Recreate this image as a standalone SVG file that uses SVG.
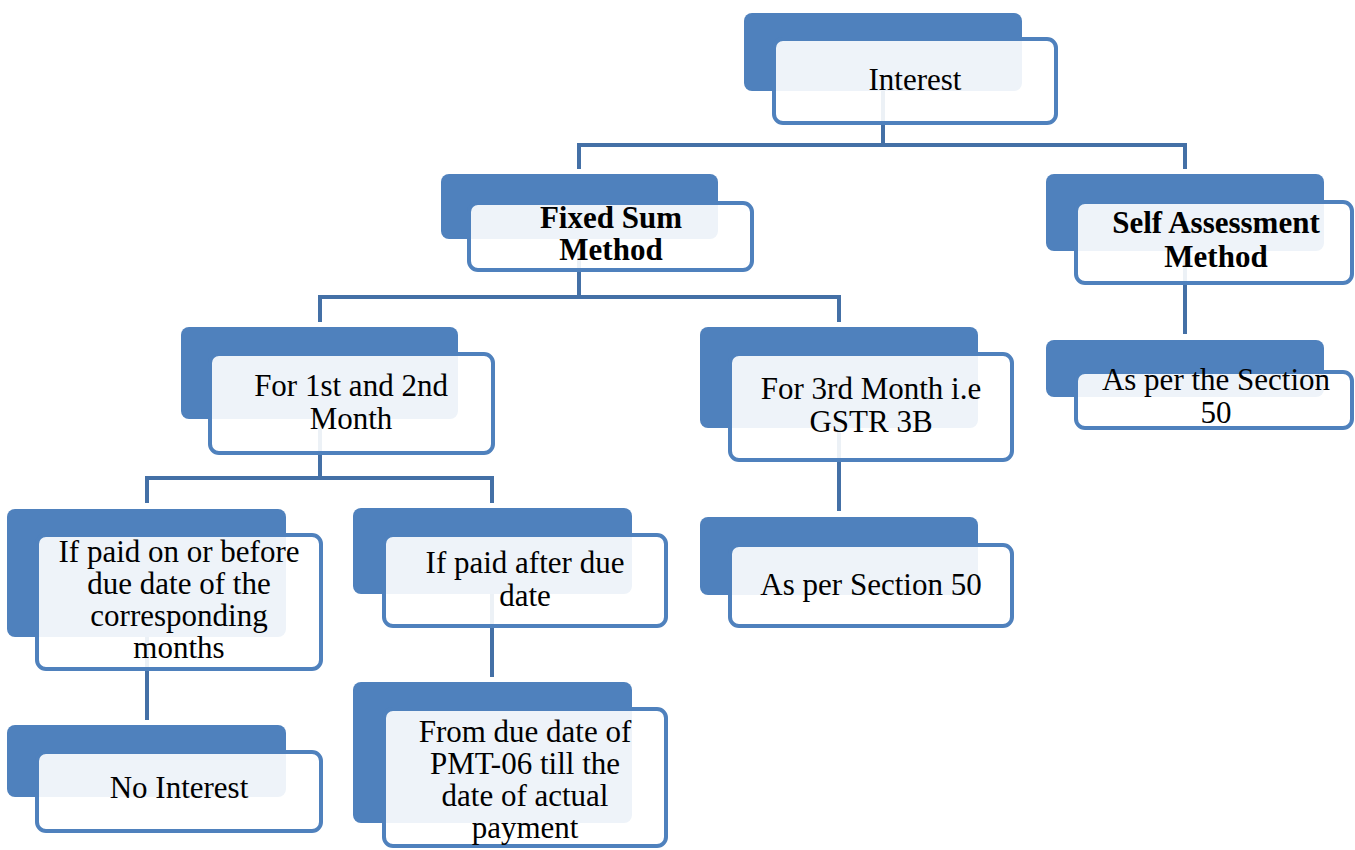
<svg xmlns="http://www.w3.org/2000/svg" width="1355" height="850" viewBox="0 0 1355 850">
<style>
.back{fill:#4F81BD;}
.front{fill:#FFFFFF;fill-opacity:0.9;stroke:#4F81BD;stroke-width:4;}
.conn{fill:none;stroke:#4470A6;stroke-width:4;}
.t{font-family:'Liberation Serif','Times New Roman',serif !important;font-size:31px;fill:#000000;text-anchor:middle;}
.b{font-weight:bold;}
</style>
<rect width="1355" height="850" fill="#FFFFFF"/>
<g id="connectors">
<path class="conn" d="M883,91 V145"/>
<path class="conn" d="M579,169 V145 H1185 V169"/>
<path class="conn" d="M579,239 V297"/>
<path class="conn" d="M320,322 V297 H839 V322"/>
<path class="conn" d="M1185,251 V334"/>
<path class="conn" d="M320,419 V478"/>
<path class="conn" d="M147,503 V478 H492 V503"/>
<path class="conn" d="M839,428 V511"/>
<path class="conn" d="M147,637 V720"/>
<path class="conn" d="M492,594 V677"/>
</g>
<g id="interest">
<rect class="back" x="744" y="13" width="278" height="78" rx="8"/>
<rect class="front" x="774" y="39" width="282" height="84" rx="9"/>
<text class="t" style="font-family:'Liberation Serif',serif" x="915" y="90">Interest</text>
</g>
<g id="fixed-sum">
<rect class="back" x="441" y="174" width="277" height="65" rx="8"/>
<rect class="front" x="469" y="203" width="283" height="67" rx="9"/>
<text class="t b" style="font-family:'Liberation Serif',serif" x="611" y="228">Fixed Sum</text>
<text class="t b" style="font-family:'Liberation Serif',serif" x="611" y="260">Method</text>
</g>
<g id="self-assessment">
<rect class="back" x="1046" y="174" width="278" height="77" rx="8"/>
<rect class="front" x="1076" y="202" width="276" height="81" rx="9"/>
<text class="t b" style="font-family:'Liberation Serif',serif" x="1216" y="233">Self Assessment</text>
<text class="t b" style="font-family:'Liberation Serif',serif" x="1216" y="267">Method</text>
</g>
<g id="self-section50">
<rect class="back" x="1046" y="340" width="278" height="57" rx="8"/>
<rect class="front" x="1076" y="372" width="276" height="56" rx="9"/>
<text class="t" style="font-family:'Liberation Serif',serif" x="1216" y="390">As per the Section</text>
<text class="t" style="font-family:'Liberation Serif',serif" x="1216" y="423">50</text>
</g>
<g id="first-second">
<rect class="back" x="181" y="327" width="277" height="92" rx="8"/>
<rect class="front" x="210" y="354" width="283" height="99" rx="9"/>
<text class="t" style="font-family:'Liberation Serif',serif" x="351" y="396">For 1st and 2nd</text>
<text class="t" style="font-family:'Liberation Serif',serif" x="351" y="429">Month</text>
</g>
<g id="third-month">
<rect class="back" x="700" y="327" width="278" height="101" rx="8"/>
<rect class="front" x="730" y="354" width="282" height="106" rx="9"/>
<text class="t" style="font-family:'Liberation Serif',serif" x="871" y="399">For 3rd Month i.e</text>
<text class="t" style="font-family:'Liberation Serif',serif" x="871" y="432">GSTR 3B</text>
</g>
<g id="third-section50">
<rect class="back" x="700" y="517" width="278" height="78" rx="8"/>
<rect class="front" x="730" y="545" width="282" height="81" rx="9"/>
<text class="t" style="font-family:'Liberation Serif',serif" x="871" y="595">As per Section 50</text>
</g>
<g id="paid-before">
<rect class="back" x="7" y="509" width="279" height="128" rx="8"/>
<rect class="front" x="37" y="535" width="284" height="134" rx="9"/>
<text class="t" style="font-family:'Liberation Serif',serif" x="179" y="562">If paid on or before</text>
<text class="t" style="font-family:'Liberation Serif',serif" x="179" y="594">due date of the</text>
<text class="t" style="font-family:'Liberation Serif',serif" x="179" y="626">corresponding</text>
<text class="t" style="font-family:'Liberation Serif',serif" x="179" y="658">months</text>
</g>
<g id="no-interest">
<rect class="back" x="7" y="725" width="279" height="72" rx="8"/>
<rect class="front" x="37" y="752" width="284" height="79" rx="9"/>
<text class="t" style="font-family:'Liberation Serif',serif" x="179" y="798">No Interest</text>
</g>
<g id="paid-after">
<rect class="back" x="353" y="508" width="279" height="86" rx="8"/>
<rect class="front" x="384" y="535" width="282" height="91" rx="9"/>
<text class="t" style="font-family:'Liberation Serif',serif" x="525" y="573">If paid after due</text>
<text class="t" style="font-family:'Liberation Serif',serif" x="525" y="606">date</text>
</g>
<g id="from-due-date">
<rect class="back" x="353" y="682" width="279" height="141" rx="8"/>
<rect class="front" x="384" y="709" width="282" height="137" rx="9"/>
<text class="t" style="font-family:'Liberation Serif',serif" x="525" y="742">From due date of</text>
<text class="t" style="font-family:'Liberation Serif',serif" x="525" y="774">PMT-06 till the</text>
<text class="t" style="font-family:'Liberation Serif',serif" x="525" y="806">date of actual</text>
<text class="t" style="font-family:'Liberation Serif',serif" x="525" y="838">payment</text>
</g>
</svg>
